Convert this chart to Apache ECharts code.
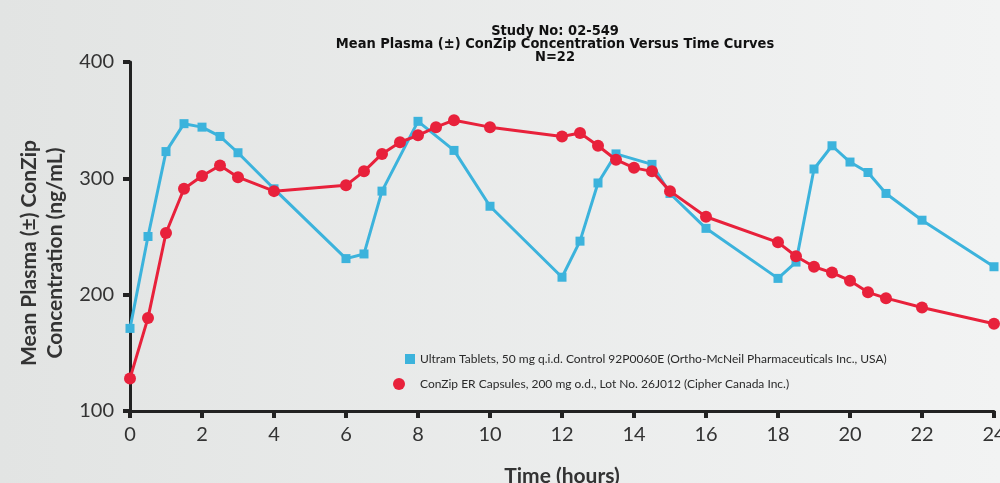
<!DOCTYPE html>
<html><head><meta charset="utf-8">
<script src="https://cdn.jsdelivr.net/npm/echarts@6/dist/echarts.min.js"></script>
<style>html,body{margin:0;padding:0;}#c{width:1000px;height:483px;}</style>
</head><body><div id="c"></div>
<script>
var titleLines = ['Study No: 02-549', 'Mean Plasma (\u00b1) ConZip Concentration Versus Time Curves', 'N=22'];
var xTicks = [0,2,4,6,8,10,12,14,16,18,20,22,24];
var yTicks = [100,200,300,400];
var yAxisTitle = ['Mean Plasma (\u00b1) ConZip', 'Concentration (ng/mL)'];
var xAxisTitle = 'Time (hours)';
var ultramName = 'Ultram Tablets, 50 mg q.i.d. Control 92P0060E (Ortho-McNeil Pharmaceuticals Inc., USA)';
var conzipName = 'ConZip ER Capsules, 200 mg o.d., Lot No. 26J012 (Cipher Canada Inc.)';
var ultramTime = [0,0.5,1,1.5,2,2.5,3,4,6,6.5,7,8,9,10,12,12.5,13,13.5,14.5,15,16,18,18.5,19,19.5,20,20.5,21,22,24];
var ultramConc = [171,250,323,347,344,336,322,291,231,235,289,349,324,276,215,246,296,321,312,287,257,214,228,308,328,314,305,287,264,224];
var conzipTime = [0,0.5,1,1.5,2,2.5,3,4,6,6.5,7,7.5,8,8.5,9,10,12,12.5,13,13.5,14,14.5,15,16,18,18.5,19,19.5,20,20.5,21,22,24];
var conzipConc = [128,180,253,291,302,311,301,289,294,306,321,331,337,344,350,344,336,339,328,316,309,306,289,267,245,233,224,219,212,202,197,189,175];

function pairs(t, v){ return t.map(function(x,i){ return [x, v[i]]; }); }

var blue = '#3cb3dc', red = '#e8213b';
var chart = echarts.init(document.getElementById('c'));
chart.setOption({
  backgroundColor: new echarts.graphic.LinearGradient(0,0,1,0,[{offset:0,color:'#e2e4e3'},{offset:1,color:'#f2f3f3'}]),
  animation: false,
  title: {
    text: titleLines.join('\n'),
    left: 550, top: 20, textAlign: 'center',
    textStyle: {fontFamily: 'DejaVu Sans Condensed, sans-serif', fontWeight: 'bold', fontSize: 14.5, lineHeight: 13, color: '#111'}
  },
  legend: [
    {orient: 'vertical', left: 405, top: 353, padding: 0, itemWidth: 10, itemHeight: 10,
     textStyle: {fontFamily: 'Lato, sans-serif', fontSize: 12, color: '#2a2a2a'},
     data: [{name: ultramName, icon: 'rect', itemStyle:{color: blue}}]},
    {orient: 'vertical', left: 393, top: 378, padding: 0, itemWidth: 12, itemHeight: 12,
     textStyle: {fontFamily: 'Lato, sans-serif', fontSize: 12, color: '#2a2a2a', padding: [0,0,0,10]},
     data: [{name: conzipName, icon: 'circle', itemStyle:{color: red}}]}
  ],
  grid: {left: 130, right: 6, top: 62, bottom: 72, outerBoundsMode: 'none', containLabel: false},
  xAxis: {
    type: 'value', min: 0, max: 24, interval: 2,
    name: xAxisTitle, nameLocation: 'middle', nameGap: 55,
    nameTextStyle: {fontFamily: 'Lato, sans-serif', fontWeight: 'bold', fontSize: 21, color: '#333'},
    axisLine: {show: true, lineStyle: {color: '#222', width: 3}},
    axisTick: {show: true, length: 7, lineStyle: {color: '#222', width: 4}},
    axisLabel: {fontFamily: 'Lato, sans-serif', fontSize: 20, color: '#333', margin: 14,
      customValues: xTicks},
    splitLine: {show: false}
  },
  yAxis: {
    type: 'value', min: 100, max: 400, interval: 100,
    axisLine: {show: true, lineStyle: {color: '#222', width: 3}},
    axisTick: {show: true, length: 7, lineStyle: {color: '#222', width: 4}},
    axisLabel: {fontFamily: 'Lato, sans-serif', fontSize: 20, color: '#333', margin: 16, customValues: yTicks},
    splitLine: {show: false}
  },
  graphic: [
    {type: 'text', x: 42, y: 253, rotation: Math.PI/2,
     style: {text: yAxisTitle.join('\n'), align: 'center', verticalAlign: 'middle',
       font: 'bold 21px Lato, sans-serif', lineHeight: 26, fill: '#333'}}
  ],
  series: [
    {name: ultramName, type: 'line', data: pairs(ultramTime, ultramConc), symbol: 'rect', symbolSize: 9,
     lineStyle: {color: blue, width: 3}, itemStyle: {color: blue}, z: 2},
    {name: conzipName, type: 'line', data: pairs(conzipTime, conzipConc), symbol: 'circle', symbolSize: 12,
     lineStyle: {color: red, width: 3}, itemStyle: {color: red}, z: 3}
  ]
});
</script></body></html>
